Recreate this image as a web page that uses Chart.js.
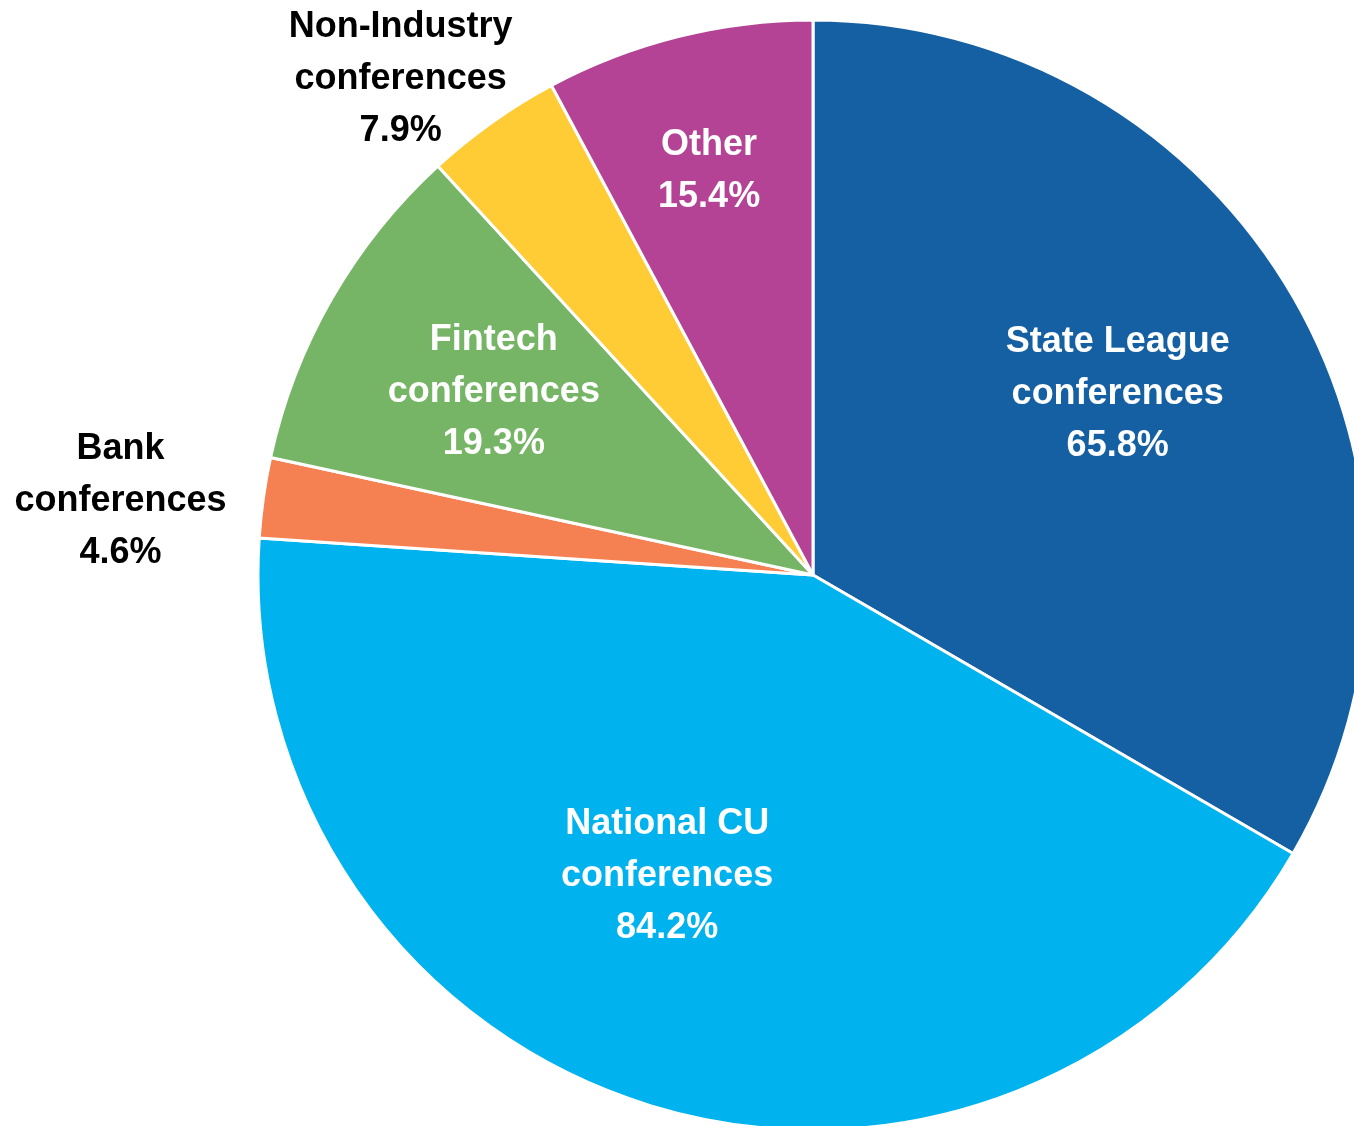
<!DOCTYPE html>
<html>
<head>
<meta charset="utf-8">
<script src="https://cdn.jsdelivr.net/npm/chart.js@4"></script>
<style>
  html, body { margin: 0; padding: 0; background: #fff; overflow: hidden; }
  #wrap { position: relative; width: 1354px; height: 1126px; }
</style>
</head>
<body>
<div id="wrap"><canvas id="myChart"></canvas></div>
<script>
const labels = [
    ['State League', 'conferences'],
    ['National CU', 'conferences'],
    ['Bank', 'conferences'],
    ['Fintech', 'conferences'],
    ['Non-Industry', 'conferences'],
    ['Other']
];
const values = [65.8, 84.2, 4.6, 19.3, 7.9, 15.4];
const colors = ['#1560A2', '#00B2EE', '#F58152', '#77B566', '#FFCC35', '#B44396'];

// label placement: radius fraction, angle shift (deg), text colour
const labelPos = [
    { r: 0.64, da: -1, color: '#fff' },
    { r: 0.60, da: 9, color: '#fff' },
    { r: 1.255, da: -1.8, color: '#000' },
    { r: 0.665, da: 0.3, color: '#fff' },
    { r: 1.165, da: -4.3, color: '#000' },
    { r: 0.755, da: -0.3, color: '#fff' }
];

const sliceLabels = {
    id: 'sliceLabels',
    afterDatasetsDraw(chart) {
        const ctx = chart.ctx;
        const meta = chart.getDatasetMeta(0);
        ctx.save();
        ctx.font = 'bold 36px "Liberation Sans", Arial, sans-serif';
        ctx.textAlign = 'center';
        ctx.textBaseline = 'middle';
        meta.data.forEach((arc, i) => {
            const p = arc.getProps(['x', 'y', 'startAngle', 'endAngle', 'outerRadius'], true);
            const mid = (p.startAngle + p.endAngle) / 2 + labelPos[i].da * Math.PI / 180;
            const r = p.outerRadius * labelPos[i].r;
            const cx = p.x + Math.cos(mid) * r;
            const cy = p.y + Math.sin(mid) * r;
            const lines = labels[i].concat([values[i].toFixed(1) + '%']);
            const lh = 52;
            ctx.fillStyle = labelPos[i].color;
            lines.forEach((t, j) => {
                ctx.fillText(t, cx, cy + 2 + (j - (lines.length - 1) / 2) * lh);
            });
        });
        ctx.restore();
    }
};

const ctx = document.getElementById('myChart').getContext('2d');
const myChart = new Chart(ctx, {
    type: 'pie',
    data: {
        labels: labels.map(l => l.join(' ')),
        datasets: [{
            data: values,
            backgroundColor: colors,
            borderColor: '#ffffff',
            borderWidth: 3,
            hoverOffset: 0,
            clip: false
        }]
    },
    options: {
        responsive: true,
        maintainAspectRatio: false,
        animation: false,
        radius: 555,
        layout: { padding: { left: 272, right: 0, top: 24, bottom: 0 } },
        plugins: {
            legend: { display: false },
            tooltip: { enabled: false }
        }
    },
    plugins: [sliceLabels]
});
</script>
</body>
</html>
